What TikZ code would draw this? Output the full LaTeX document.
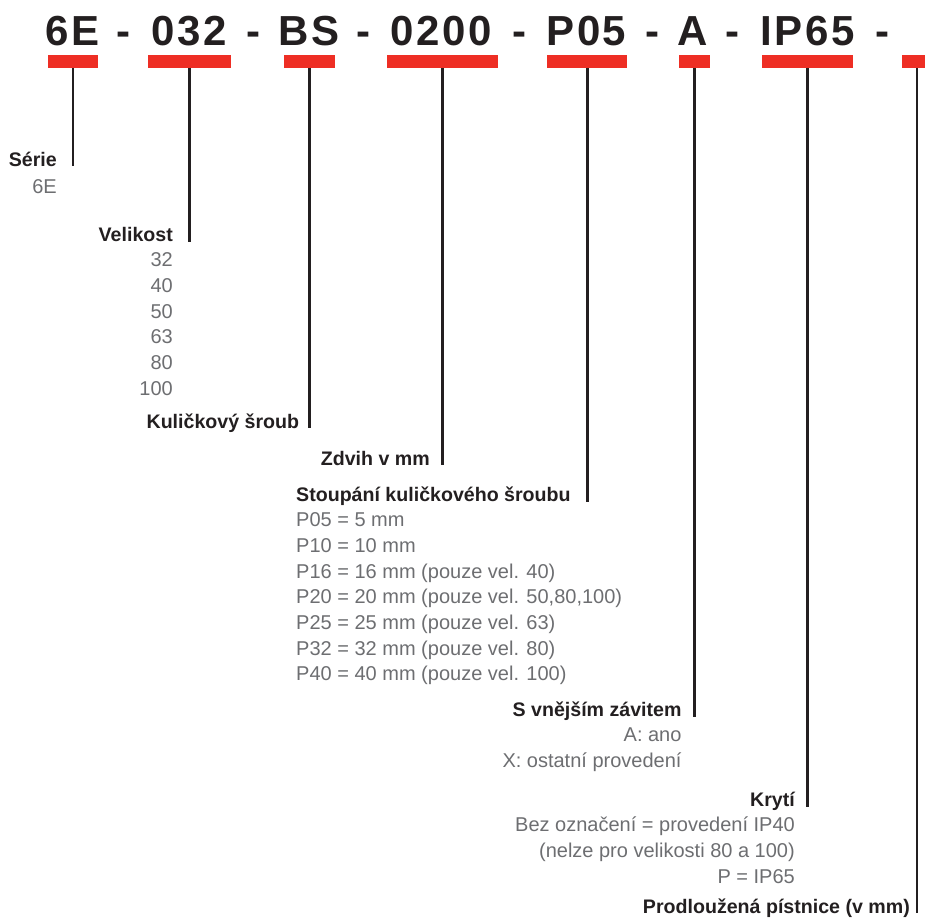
\documentclass[tikz,border=0pt]{standalone}
\usepackage{fontspec}
\setmainfont{Liberation Sans}
\newfontfamily\codefont[LetterSpace=6]{Liberation Sans}
\usetikzlibrary{positioning,calc}
\definecolor{codered}{RGB}{238,46,36}
\definecolor{codeink}{RGB}{35,31,32}
\definecolor{codegray}{RGB}{109,110,113}

\begin{document}
\begin{tikzpicture}[
    x=1pt, y=-1pt,
    code/.style={font=\codefont\bfseries\fontsize{42}{42}\selectfont, text=codeink, inner sep=0, anchor=base},
    bar/.style={fill=codered, inner sep=0, minimum height=13pt, anchor=north},
    link/.style={draw=codeink, line width=2.6pt},
    title/.style={font=\bfseries\fontsize{19.6}{24}\selectfont, text=codeink, inner sep=0, anchor=base east},
    values/.style={font=\fontsize{20}{25.7}\selectfont, text=codegray, inner sep=0, anchor=base east}
]
\useasboundingbox (0,0) rectangle (925,922);

% type code
\node[code] (c-serie) at (72.5,45) {6E};
\node[code] (d1) at (123.5,45) {-};
\node[code] (c-velikost) at (189,45) {032};
\node[code] (d2) at (253,45) {-};
\node[code] (c-sroub) at (309,45) {BS};
\node[code] (d3) at (363,45) {-};
\node[code] (c-zdvih) at (441,45) {0200};
\node[code] (d4) at (519,45) {-};
\node[code] (c-stoupani) at (586.5,45) {P05};
\node[code] (d5) at (652,45) {-};
\node[code] (c-zavit) at (692.5,45) {A};
\node[code] (d6) at (732,45) {-};
\node[code] (c-kryti) at (807.5,45) {IP65};
\node[code] (d7) at (882,45) {-};

% red marks
\node[bar, minimum width=49.4pt] (bar-serie) at (73,55) {};
\node[bar, minimum width=83pt] (bar-velikost) at (189.2,55) {};
\node[bar, minimum width=51pt] (bar-sroub) at (309.5,55) {};
\node[bar, minimum width=111pt] (bar-zdvih) at (442.2,55) {};
\node[bar, minimum width=80.3pt] (bar-stoupani) at (587.2,55) {};
\node[bar, minimum width=31.3pt] (bar-zavit) at (694.7,55) {};
\node[bar, minimum width=91.6pt] (bar-kryti) at (807.5,55) {};
\node[bar, minimum width=30pt] (bar-pistnice) at (917,55) {};

% titles
\node[title] (serie) at (57,166) {Série};
\node[values] (serie-v) at ([yshift=-27pt]serie.base east) {6E};

\node[title] (velikost) at (173,241.7) {Velikost};
\node[values] (velikost-v) at ([yshift=-25pt]velikost.base east)
  {\begin{tabular}[t]{@{}r@{}}32\\40\\50\\63\\80\\100\end{tabular}};

\node[title] (sroub) at (299.3,428.3) {Kuličkový šroub};
\node[title] (zdvih) at (430,465) {Zdvih v mm};

\node[title, anchor=base west] (stoupani) at (296,501.7) {Stoupání kuličkového šroubu};
\node[values, anchor=base west] (stoupani-v) at ([yshift=-25pt]stoupani.base west)
  {\begin{tabular}[t]{@{}l@{}}P05 = 5 mm\\P10 = 10 mm\\P16 = 16 mm (pouze vel. 40)\\
   P20 = 20 mm (pouze vel. 50,80,100)\\P25 = 25 mm (pouze vel. 63)\\
   P32 = 32 mm (pouze vel. 80)\\P40 = 40 mm (pouze vel. 100)\end{tabular}};

\node[title] (zavit) at (681.7,716.5) {S vnějším závitem};
\node[values] (zavit-v) at ([yshift=-25pt]zavit.base east)
  {\begin{tabular}[t]{@{}r@{}}A: ano\\X: ostatní provedení\end{tabular}};

\node[title] (kryti) at (795,806.7) {Krytí};
\node[values] (kryti-v) at ([yshift=-25pt]kryti.base east)
  {\begin{tabular}[t]{@{}r@{}}Bez označení = provedení IP40\\(nelze pro velikosti 80 a 100)\\P = IP65\end{tabular}};

\node[title] (pistnice) at (910,913) {Prodloužená pístnice (v mm)};

% leaders
\draw[link] (bar-serie.south) -- (bar-serie.south |- serie.base);
\draw[link] (bar-velikost.south) -- (bar-velikost.south |- velikost.base);
\draw[link] (bar-sroub.south) -- (bar-sroub.south |- sroub.base);
\draw[link] (bar-zdvih.south) -- (bar-zdvih.south |- zdvih.base);
\draw[link] (bar-stoupani.south) -- (bar-stoupani.south |- stoupani.base);
\draw[link] (bar-zavit.south) -- (bar-zavit.south |- zavit.base);
\draw[link] (bar-kryti.south) -- (bar-kryti.south |- kryti.base);
\draw[link] (bar-pistnice.south) -- (bar-pistnice.south |- pistnice.base);
\end{tikzpicture}
\end{document}
